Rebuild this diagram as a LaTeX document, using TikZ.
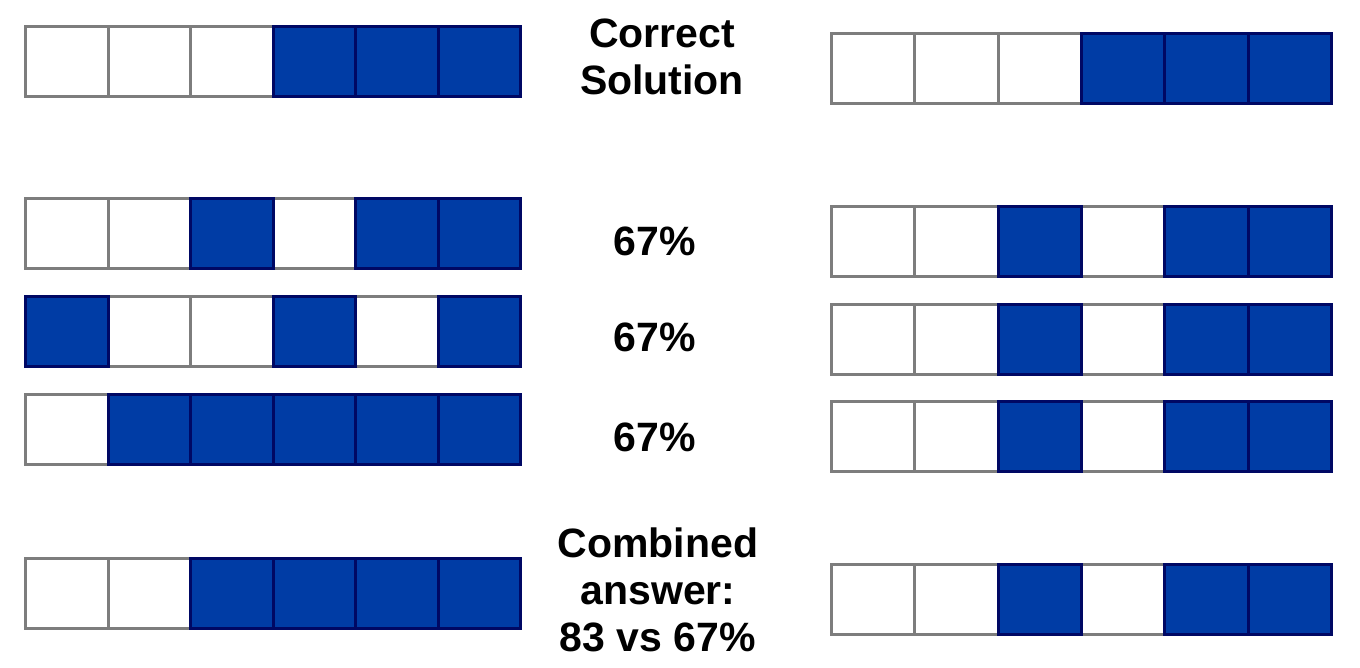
\documentclass[tikz,border=0pt]{standalone}
\usepackage{fontspec}
\setmainfont{Liberation Sans}
\definecolor{cellblue}{RGB}{0,60,165}
\definecolor{cellnavy}{RGB}{0,8,100}
\definecolor{cellgray}{RGB}{125,125,125}
\tikzset{
  cellbase/.style={line width=3pt, minimum height=70pt, inner sep=0pt, anchor=north west},
  wcell/.style={cellbase, draw=cellgray, fill=white},
  bcell/.style={cellbase, draw=cellnavy, fill=cellblue},
  lbl/.style={font=\bfseries\fontsize{41}{47}\selectfont, align=center, inner sep=0pt, text=black}
}
\begin{document}
\begin{tikzpicture}[x=1pt,y=-1pt]
\useasboundingbox (0,0) rectangle (1360,667);
% rows: name / x0 / ytop / cell width / pattern
\foreach \pass in {0,1}{
  \foreach \r/\xo/\yo/\w/\a/\b/\c/\d/\e/\f in {
      L1/24/25/82.5/0/0/0/1/1/1,
      L2/24/197/82.5/0/0/1/0/1/1,
      L3/24/295/82.5/1/0/0/1/0/1,
      L4/24/393/82.5/0/1/1/1/1/1,
      L5/24/557/82.5/0/0/1/1/1/1,
      R1/830/32/83.3/0/0/0/1/1/1,
      R2/830/205/83.3/0/0/1/0/1/1,
      R3/830/303/83.3/0/0/1/0/1/1,
      R4/830/400/83.3/0/0/1/0/1/1,
      R5/830/563/83.3/0/0/1/0/1/1}{
    \foreach \k/\v in {1/\a,2/\b,3/\c,4/\d,5/\e,6/\f}{
      \ifnum\v=\pass
        \ifnum\v=1
          \node[bcell, minimum width=\w pt] (\r-\k) at ({\xo+\w*(\k-1)},\yo) {};
        \else
          \node[wcell, minimum width=\w pt] (\r-\k) at ({\xo+\w*(\k-1)},\yo) {};
        \fi
      \fi
    }
  }
}
\node[lbl] (t1) at (662,57) {Correct\\Solution};
\node[lbl] (t2) at (655,241) {67\%};
\node[lbl] (t3) at (655,337) {67\%};
\node[lbl] (t4) at (655,437) {67\%};
\node[lbl] (t5) at (658,590) {Combined\\answer:\\83 vs 67\%};
\end{tikzpicture}
\end{document}
